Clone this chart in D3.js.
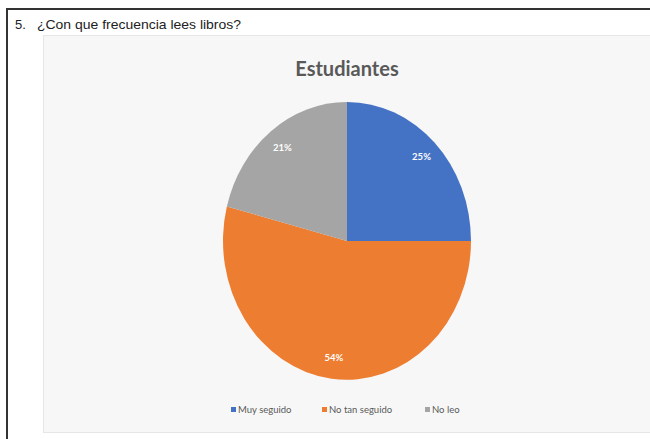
<!DOCTYPE html>
<html>
<head>
<meta charset="utf-8">
<script src="https://cdn.jsdelivr.net/npm/d3@7"></script>
<style>
  html, body { margin: 0; padding: 0; background: #ffffff; }
  svg { display: block; }
</style>
</head>
<body>
<svg id="chart" width="650" height="439"></svg>
<script>
const categories = ["Muy seguido", "No tan seguido", "No leo"];
const values = [25, 54, 21];
const labels = ["25%", "54%", "21%"];
const colors = ["#4472c4", "#ed7d31", "#a5a5a5"];
const question = "5.";
const questionText = "¿Con que frecuencia lees libros?";
const title = "Estudiantes";

const svg = d3.select("#chart");

// outer document box
svg.append("rect").attr("x", 7).attr("y", 9).attr("width", 660).attr("height", 450)
  .attr("fill", "#ffffff").attr("stroke", "#333333").attr("stroke-width", 2);

svg.append("text").attr("x", 15).attr("y", 29)
  .attr("font-family", "Liberation Sans, Arial, sans-serif").attr("font-size", 13)
  .attr("fill", "#222").text(question);
svg.append("text").attr("x", 37).attr("y", 29)
  .attr("font-family", "Liberation Sans, Arial, sans-serif").attr("font-size", 13)
  .attr("textLength", 204).attr("lengthAdjust", "spacingAndGlyphs")
  .attr("fill", "#222").text(questionText);

// chart area
svg.append("rect").attr("x", 43.5).attr("y", 35.5).attr("width", 620).attr("height", 397)
  .attr("fill", "#f7f7f7").attr("stroke", "#e6e6e6").attr("stroke-width", 1);

svg.append("text").attr("x", 347).attr("y", 76).attr("text-anchor", "middle")
  .attr("font-family", "Lato, 'Open Sans', sans-serif").attr("font-weight", "bold")
  .attr("font-size", 20).attr("fill", "#595959").text(title);

// pie (elliptical, as in reference)
const cx = 347, cy = 241, rx = 124, ry = 139;
const pie = d3.pie().sort(null).value(d => d)(values);
const arc = d3.arc().innerRadius(0).outerRadius(1);
const g = svg.append("g").attr("transform", `translate(${cx},${cy})`);
const gs = g.append("g").attr("transform", `scale(${rx},${ry})`);
gs.selectAll("path").data(pie).join("path")
  .attr("d", arc).attr("fill", (d, i) => colors[i]);

// data labels (inside end)
const labelArc = d3.arc().innerRadius(0.85).outerRadius(0.85);
g.selectAll("text.lbl").data(pie).join("text")
  .attr("class", "lbl")
  .attr("x", d => labelArc.centroid(d)[0] * rx)
  .attr("y", d => labelArc.centroid(d)[1] * ry + 3)
  .attr("text-anchor", "middle")
  .attr("font-family", "Lato, 'Open Sans', sans-serif").attr("font-weight", "bold")
  .attr("font-size", 9.5).attr("fill", "#ffffff")
  .text((d, i) => labels[i]);

// legend
const legendX = [231, 322, 425];
const lg = svg.append("g").attr("font-family", "Lato, 'Open Sans', sans-serif").attr("font-size", 9.5);
categories.forEach((c, i) => {
  lg.append("rect").attr("x", legendX[i]).attr("y", 407).attr("width", 5).attr("height", 5).attr("fill", colors[i]);
  lg.append("text").attr("x", legendX[i] + 7).attr("y", 413).attr("fill", "#595959").text(c);
});
</script>
</body>
</html>
